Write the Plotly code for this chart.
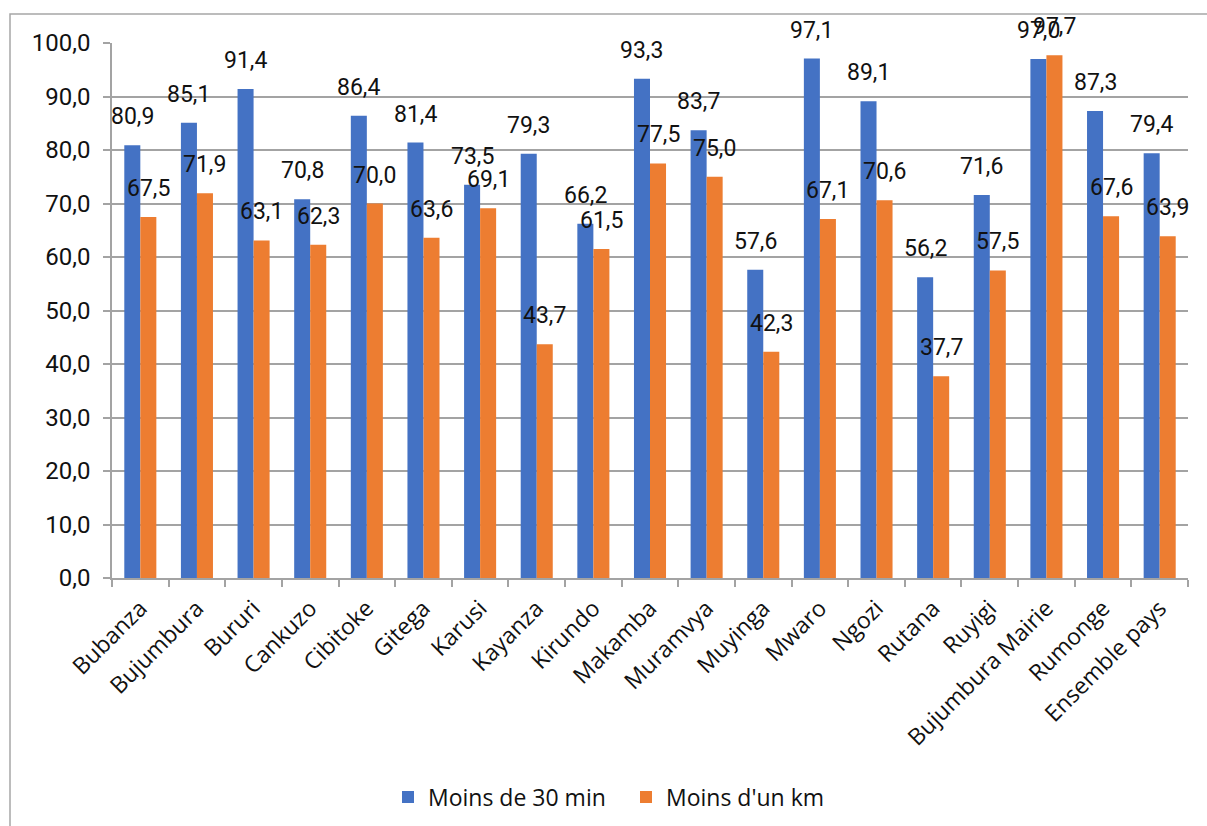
import plotly.graph_objects as go

provinces = ["Bubanza", "Bujumbura", "Bururi", "Cankuzo", "Cibitoke", "Gitega", "Karusi",
             "Kayanza", "Kirundo", "Makamba", "Muramvya", "Muyinga", "Mwaro", "Ngozi",
             "Rutana", "Ruyigi", "Bujumbura Mairie", "Rumonge", "Ensemble pays"]
moins_30_min = [80.9, 85.1, 91.4, 70.8, 86.4, 81.4, 73.5, 79.3, 66.2, 93.3, 83.7, 57.6,
                97.1, 89.1, 56.2, 71.6, 97.0, 87.3, 79.4]
moins_un_km = [67.5, 71.9, 63.1, 62.3, 70.0, 63.6, 69.1, 43.7, 61.5, 77.5, 75.0, 42.3,
               67.1, 70.6, 37.7, 57.5, 97.7, 67.6, 63.9]
y_ticks = [0, 10, 20, 30, 40, 50, 60, 70, 80, 90, 100]

W, H = 1207, 826
L, R, T, B = 112, 19, 43, 248
pw, ph = W - L - R, H - T - B

BLUE, ORANGE = "#4472C4", "#ED7D31"
GRID = "#a3a3a3"
TEXT = "#111111"
BAR_W = 0.283

idx = list(range(len(provinces)))

fig = go.Figure()
fig.add_trace(go.Bar(x=[i - BAR_W / 2 for i in idx], y=moins_30_min, width=BAR_W,
                     name="Moins de 30 min", marker=dict(color=BLUE, line=dict(width=0))))
fig.add_trace(go.Bar(x=[i + BAR_W / 2 for i in idx], y=moins_un_km, width=BAR_W,
                     name="Moins d'un km", marker=dict(color=ORANGE, line=dict(width=0))))


def fmt(v):
    return f"{v:.1f}".replace(".", ",")


annotations = []
for i in idx:
    for off, v in ((-BAR_W / 2, moins_30_min[i]), (BAR_W / 2, moins_un_km[i])):
        annotations.append(dict(x=i + off, y=v, xref="x", yref="y", text=fmt(v),
                                showarrow=False, yanchor="bottom", yshift=13,
                                font=dict(family="Roboto", size=23, color=TEXT)))


def px_x(p):
    return (p - L) / pw


def px_y(p):
    return (H - B - p) / ph


fig.update_layout(
    width=W, height=H,
    margin=dict(l=L, r=R, t=T, b=B, autoexpand=False),
    paper_bgcolor="white", plot_bgcolor="white",
    separators=", ",
    barmode="overlay",
    showlegend=True,
    legend=dict(orientation="h", x=px_x(388), y=px_y(797), xanchor="left", yanchor="middle",
                font=dict(family="Open Sans", size=23, color=TEXT),
                itemwidth=30, traceorder="normal", entrywidthmode="pixels", entrywidth=193),
    annotations=annotations,
    shapes=[dict(type="rect", xref="paper", yref="paper",
                 x0=px_x(10), x1=px_x(1215), y0=px_y(835), y1=px_y(14),
                 line=dict(color="#a6a6a6", width=1.5), fillcolor="rgba(0,0,0,0)", layer="below")],
)

fig.update_xaxes(
    range=[-0.5, len(provinces) - 0.5],
    tickvals=idx, ticktext=provinces, tickangle=-45, ticks="", ticklabelstandoff=6,
    tickfont=dict(family="Open Sans", size=23, color=TEXT),
    showgrid=False, zeroline=False,
    showline=True, linecolor=GRID, linewidth=1.5,
    minor=dict(ticks="outside", tick0=-0.5, dtick=1, ticklen=7, tickcolor=GRID, tickwidth=1.5,
               showgrid=False),
)
fig.update_yaxes(
    range=[0, 100], tickvals=y_ticks, ticktext=[fmt(v) for v in y_ticks],
    ticks="outside", ticklen=7, tickcolor=GRID, tickwidth=1.5, ticklabelstandoff=8,
    tickfont=dict(family="Roboto", size=24, color=TEXT),
    showgrid=True, gridcolor=GRID, gridwidth=1.5,
    zeroline=False, showline=True, linecolor=GRID, linewidth=1.5,
)

fig.write_html("out.html")
